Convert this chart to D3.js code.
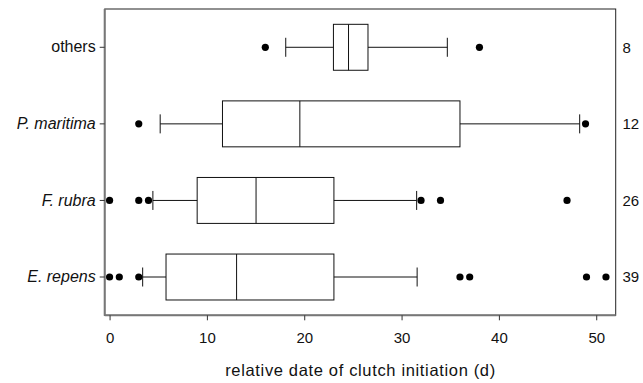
<!DOCTYPE html>
<html><head><meta charset="utf-8">
<script src="https://cdn.jsdelivr.net/npm/d3@7"></script>
<style>body{margin:0;background:#fff}svg{display:block}text{font-family:"Liberation Sans",Arial,sans-serif;fill:#111}</style>
</head><body><svg id="c" width="643" height="383"></svg>
<script>
const categories = ["others", "P. maritima", "F. rubra", "E. repens"];
const italicCats = [false, true, true, true];
const whiskerLow = [18.1, 5.2, 4.45, 3.4];
const q1 = [23.0, 11.6, 9.0, 5.8];
const medians = [24.55, 19.55, 15.05, 13.05];
const q3 = [26.55, 36.0, 23.05, 23.05];
const whiskerHigh = [34.7, 48.3, 31.55, 31.6];
const outliers = [[16, 38], [3, 48.9], [0, 3, 4, 32, 34, 47], [0, 1, 3, 36, 37, 49, 51]];
const counts = ["8", "12", "26", "39"];
const xTicks = [0, 10, 20, 30, 40, 50];
const xTitle = "relative date of clutch initiation (d)";

const svg = d3.select("#c");
const L = 104.7, R = 615.7, T = 9, B = 315.3;
const x = d3.scaleLinear().domain([-0.5, 52]).range([L, R]);
const y = d3.scaleBand().domain(categories).range([T, B]).paddingInner(0.4).paddingOuter(0.2);
const bw = y.bandwidth();
const cap = 9.5;

const rows = categories.map((c, i) => ({c, i}));
const g = svg.append("g");
rows.forEach(({c, i}) => {
  const cy = y(c) + bw / 2;
  const gg = g.append("g").attr("stroke", "#111").attr("stroke-width", 1).attr("fill", "none");
  gg.append("line").attr("x1", x(whiskerLow[i])).attr("x2", x(q1[i])).attr("y1", cy).attr("y2", cy);
  gg.append("line").attr("x1", x(q3[i])).attr("x2", x(whiskerHigh[i])).attr("y1", cy).attr("y2", cy);
  gg.append("line").attr("x1", x(whiskerLow[i])).attr("x2", x(whiskerLow[i])).attr("y1", cy - cap).attr("y2", cy + cap);
  gg.append("line").attr("x1", x(whiskerHigh[i])).attr("x2", x(whiskerHigh[i])).attr("y1", cy - cap).attr("y2", cy + cap);
  gg.append("rect").attr("x", x(q1[i])).attr("y", y(c)).attr("width", x(q3[i]) - x(q1[i])).attr("height", bw);
  gg.append("line").attr("x1", x(medians[i])).attr("x2", x(medians[i])).attr("y1", y(c)).attr("y2", y(c) + bw);
  g.selectAll(null).data(outliers[i]).enter().append("circle")
    .attr("cx", d => x(d)).attr("cy", cy).attr("r", 3.6).attr("fill", "#000");
  svg.append("text").attr("x", 622.5).attr("y", cy).attr("dy", "0.36em")
    .attr("font-size", 15).text(counts[i]);
});

// frame
svg.append("rect").attr("x", L).attr("y", T).attr("width", R - L).attr("height", B - T)
  .attr("fill", "none").attr("stroke", "#222").attr("stroke-width", 1);
svg.append("line").attr("x1", L).attr("x2", L).attr("y1", T).attr("y2", B + 0.5).attr("stroke", "#777").attr("stroke-width", 2);
svg.append("line").attr("x1", L).attr("x2", R).attr("y1", B).attr("y2", B).attr("stroke", "#777").attr("stroke-width", 2);

// x axis
const xa = svg.append("g").attr("transform", `translate(0,${B})`)
  .call(d3.axisBottom(x).tickValues(xTicks).tickSize(5).tickPadding(12).tickFormat(d3.format("d")));
xa.select(".domain").remove();
xa.selectAll("line").attr("stroke", "#333");
xa.selectAll("text").attr("font-size", 15).attr("fill", "#111").attr("font-family", '"Liberation Sans",Arial,sans-serif');

// y axis
const ya = svg.append("g").attr("transform", `translate(${L},0)`)
  .call(d3.axisLeft(y).tickSize(5).tickPadding(4));
ya.select(".domain").remove();
ya.selectAll("line").attr("stroke", "#333");
ya.selectAll("text").attr("font-size", 16).attr("fill", "#111")
  .attr("font-family", '"Liberation Sans",Arial,sans-serif')
  .attr("font-style", (d, i) => italicCats[i] ? "italic" : "normal");

svg.append("text").attr("x", (L + R) / 2).attr("y", 376).attr("text-anchor", "middle")
  .attr("font-size", 16.5).attr("textLength", 270).attr("lengthAdjust", "spacing").text(xTitle);
</script></body></html>
